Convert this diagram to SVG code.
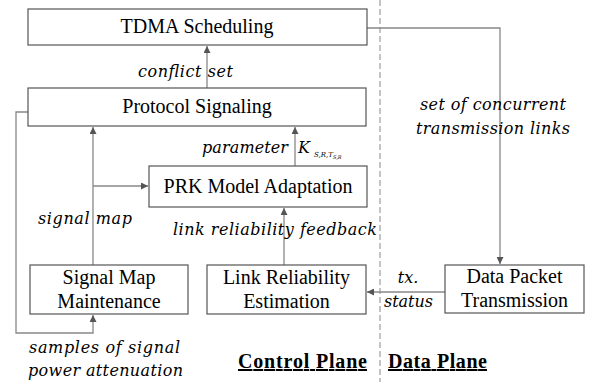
<svg xmlns="http://www.w3.org/2000/svg" width="592" height="382" viewBox="0 0 592 382">
<defs>
<marker id="ah" viewBox="0 0 10 10" refX="10" refY="5" markerWidth="7" markerHeight="7" markerUnits="userSpaceOnUse" orient="auto">
<path d="M0,0 L10,5 L0,10 z" fill="#555"/>
</marker>
</defs>
<line x1="380" y1="0" x2="380" y2="382" stroke="#888" stroke-width="1" stroke-dasharray="6,3"/>
<g id="connectors" fill="none" stroke="#888" stroke-width="1.3">
<path d="M207,88 V46" marker-end="url(#ah)"/>
<path d="M367,28 H500 V264" marker-end="url(#ah)"/>
<path d="M295,166 V127" marker-end="url(#ah)"/>
<path d="M93,265 V127" marker-end="url(#ah)"/>
<path d="M93,186 H148" marker-end="url(#ah)"/>
<path d="M284,265 V208" marker-end="url(#ah)"/>
<path d="M445,292 H367" marker-end="url(#ah)"/>
<path d="M28,112 H16 V333 H93 V315" marker-end="url(#ah)"/>
</g>
<g id="tdma">
<rect x="28" y="9" width="339" height="36" fill="#fff" stroke="#555" stroke-width="1.2"/>
<text font-family="Liberation Serif" font-size="20" text-anchor="middle" x="197" y="33">TDMA Scheduling</text>
</g>
<g id="protocol">
<rect x="28" y="88" width="338" height="38" fill="#fff" stroke="#555" stroke-width="1.2"/>
<text font-family="Liberation Serif" font-size="20" text-anchor="middle" x="197" y="113">Protocol Signaling</text>
</g>
<g id="prk">
<rect x="149" y="166" width="218" height="41" fill="#fff" stroke="#555" stroke-width="1.2"/>
<text font-family="Liberation Serif" font-size="20" text-anchor="middle" x="258" y="193">PRK Model Adaptation</text>
</g>
<g id="signalmap">
<rect x="30" y="265" width="158" height="49" fill="#fff" stroke="#555" stroke-width="1.2"/>
<text font-family="Liberation Serif" font-size="20" text-anchor="middle" x="109" y="284">Signal Map</text>
<text font-family="Liberation Serif" font-size="20" text-anchor="middle" x="109" y="308">Maintenance</text>
</g>
<g id="linkrel">
<rect x="207" y="265" width="159" height="49" fill="#fff" stroke="#555" stroke-width="1.2"/>
<text font-family="Liberation Serif" font-size="20" text-anchor="middle" x="286.5" y="284">Link Reliability</text>
<text font-family="Liberation Serif" font-size="20" text-anchor="middle" x="286.5" y="308">Estimation</text>
</g>
<g id="datapacket">
<rect x="445" y="265" width="139" height="48" fill="#fff" stroke="#555" stroke-width="1.2"/>
<text font-family="Liberation Serif" font-size="20" text-anchor="middle" x="514.5" y="283">Data Packet</text>
<text font-family="Liberation Serif" font-size="20" text-anchor="middle" x="514.5" y="307">Transmission</text>
</g>
<g id="labels">
<text font-family="DejaVu Serif" font-style="italic" font-size="16" x="138" y="77" textLength="95">conflict set</text>
<text font-family="DejaVu Serif" font-style="italic" font-size="16" x="202" y="153" textLength="86">parameter</text>
<text font-family="DejaVu Serif" font-style="italic" font-size="16" x="298" y="153">K<tspan font-size="7" dy="4" dx="4">S,R,T</tspan><tspan font-size="5" dy="2">S,R</tspan></text>
<text font-family="DejaVu Serif" font-style="italic" font-size="16" x="420" y="110" textLength="146">set of concurrent</text>
<text font-family="DejaVu Serif" font-style="italic" font-size="16" x="416" y="134" textLength="154">transmission links</text>
<text font-family="DejaVu Serif" font-style="italic" font-size="16" x="38" y="224" textLength="94">signal map</text>
<text font-family="DejaVu Serif" font-style="italic" font-size="16" x="173" y="235" textLength="204">link reliability feedback</text>
<text font-family="DejaVu Serif" font-style="italic" font-size="16" x="408" y="283" text-anchor="middle">tx.</text>
<text font-family="DejaVu Serif" font-style="italic" font-size="16" x="384" y="307" textLength="49">status</text>
<text font-family="DejaVu Serif" font-style="italic" font-size="16" x="29" y="353" textLength="151">samples of signal</text>
<text font-family="DejaVu Serif" font-style="italic" font-size="16" x="28" y="376" textLength="155">power attenuation</text>
</g>
<g id="planes">
<text font-family="Liberation Serif" font-weight="bold" font-size="20" text-decoration="underline" x="238" y="368" textLength="129">Control Plane</text>
<text font-family="Liberation Serif" font-weight="bold" font-size="20" text-decoration="underline" x="388" y="368" textLength="99">Data Plane</text>
</g>
</svg>
